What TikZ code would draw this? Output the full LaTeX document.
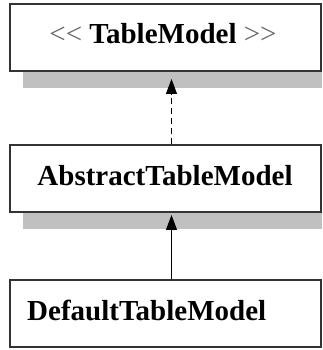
\documentclass[tikz,border=0pt]{standalone}
\usepackage{fontspec}
\setmainfont{Liberation Serif}
\usetikzlibrary{arrows.meta}
\definecolor{shadowgray}{HTML}{C0C0C0}
\definecolor{edgegray}{HTML}{333333}
\begin{document}
\begin{tikzpicture}[x=1pt,y=1pt,
  classbox/.style={draw=edgegray,line width=1.6pt,fill=white,minimum width=311pt,minimum height=67pt,inner sep=0pt,anchor=south west},
  shadowbox/.style={fill=shadowgray,draw=none,minimum width=299pt,minimum height=16pt,inner sep=0pt,anchor=north west},
  classtext/.style={font=\fontsize{29}{32}\selectfont\bfseries,inner sep=0pt},
  conn/.style={line width=1.1pt,black,-{Triangle[length=15pt,width=11pt]}}]
\useasboundingbox (0,0) rectangle (322,350);
% shadows
\node[shadowbox] (s1) at (23,278) {};
\node[shadowbox] (s2) at (23,137) {};
% boxes
\node[classbox] (b1) at (9,278) {};
\node[classbox] (b2) at (9,137) {};
\node[classbox] (b3) at (9,2) {};
% texts
\node[classtext] (t1) at (163,316) {{\mdseries\color{gray!80!black}<\kern0pt<} TableModel {\mdseries\color{gray!80!black}>\kern0pt>}};
\node[classtext] (t2) at (165,174) {AbstractTableModel};
\node[classtext,anchor=west] (t3) at (27,40) {DefaultTableModel};
% connectors
\coordinate (tip1) at (171.5,271);
\coordinate (tip2) at (171.5,135);
\draw[conn,dash pattern=on 6pt off 4pt] (b2.north -| tip1) -- (tip1);
\draw[conn] (b3.north -| tip2) -- (tip2);
\end{tikzpicture}
\end{document}
